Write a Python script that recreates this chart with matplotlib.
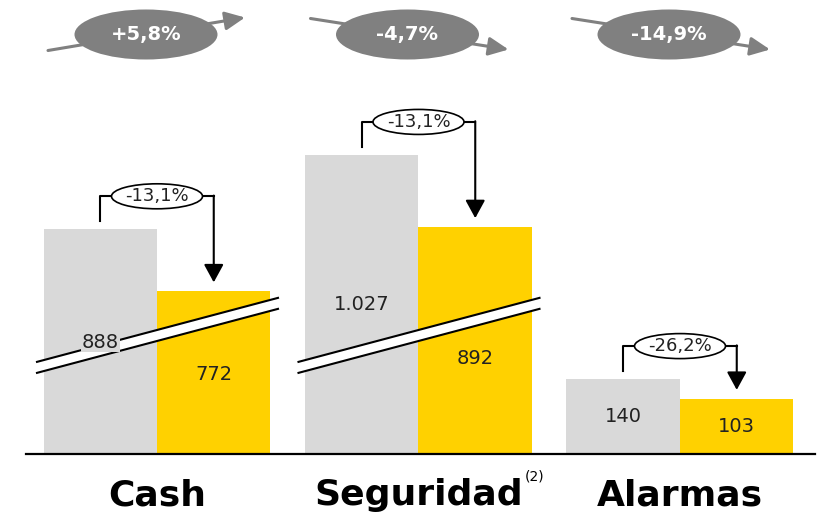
import matplotlib
matplotlib.use("Agg")
import matplotlib.pyplot as plt
from matplotlib.patches import Ellipse, Polygon
import numpy as np

# data
categories = ["Cash", "Seguridad", "Alarmas"]
prev_values = [888, 1027, 140]
curr_values = [772, 892, 103]
prev_labels = ["888", "1.027", "140"]
curr_labels = ["772", "892", "103"]
change_labels = ["-13,1%", "-13,1%", "-26,2%"]
growth_labels = ["+5,8%", "-4,7%", "-14,9%"]
growth_up = [True, False, False]
cat_notes = ["", "(2)", ""]

# axis break (values hidden below the cut), 0 = no break
break_offset = [468, 468, 0]

GRAY = "#D9D9D9"
YELLOW = "#FFD100"
DARK = "#808080"

# layout: pixel scale of the axes
PX_X = 261.5   # pixels per category
PX_Y = 0.535   # pixels per unit
BASE = 66      # baseline, pixels from bottom


def dx(px):
    return px / PX_X


def dy(px):
    return px / PX_Y


fig = plt.figure(figsize=(8.2, 5.2), dpi=100)
ax = fig.add_axes([0, 0, 1, 1])
ax.set_xlim(-157 / PX_X, (820 - 157) / PX_X)
ax.set_ylim(-BASE / PX_Y, (520 - BASE) / PX_Y)
ax.axis("off")

x = np.arange(len(categories))
w = dx(113.5)
prev_h = np.array(prev_values) - np.array(break_offset)
curr_h = np.array(curr_values) - np.array(break_offset)

ax.bar(x - w / 2, prev_h, w, color=GRAY, zorder=2)
ax.bar(x + w / 2, curr_h, w, color=YELLOW, zorder=2)

# baseline
ax.plot([dx(26 - 157), dx(815 - 157)], [0, 0], color="black", lw=1.6, zorder=3)

# break bands (rising to the right)
band_y = dy(124)
slope = dy(64) / dx(241)
for i in range(len(categories)):
    if break_offset[i] == 0:
        continue
    x0, x1 = x[i] - dx(120), x[i] + dx(121)
    y0 = band_y + slope * (x0 - x[i])
    y1 = band_y + slope * (x1 - x[i])
    gap = dy(11)
    ax.add_patch(Polygon([[x0, y0], [x1, y1], [x1, y1 - gap], [x0, y0 - gap]],
                         closed=True, facecolor="white", edgecolor="none", zorder=4))
    ax.plot([x0, x1], [y0, y1], color="black", lw=1.5, zorder=5)
    ax.plot([x0, x1], [y0 - gap, y1 - gap], color="black", lw=1.5, zorder=5)

# value labels
prev_label_y = [dy(112), dy(149), prev_h[2] / 2]
curr_label_y = [dy(79), dy(96), curr_h[2] / 2]
for i in range(len(categories)):
    ax.text(x[i] - w / 2, prev_label_y[i], prev_labels[i], ha="center", va="center",
            fontsize=14, color="#222222", zorder=6,
            bbox=dict(boxstyle="square,pad=0.05", facecolor=GRAY, edgecolor="none"))
    ax.text(x[i] + w / 2, curr_label_y[i], curr_labels[i], ha="center", va="center",
            fontsize=14, color="#222222", zorder=6)

# change brackets
for i in range(len(categories)):
    lx, rx = x[i] - w / 2, x[i] + w / 2
    ye = prev_h[i] + dy(33)
    tip = curr_h[i] + dy(9)
    ax.plot([lx, lx, rx], [prev_h[i] + dy(8), ye, ye], color="black", lw=1.5, zorder=6)
    ax.annotate("", xy=(rx, tip), xytext=(rx, ye + dy(0.7)),
                arrowprops=dict(arrowstyle="-|>,head_length=0.55,head_width=0.3",
                                mutation_scale=20, color="black", lw=1.5,
                                shrinkA=0, shrinkB=0), zorder=6)
    ax.add_patch(Ellipse((x[i], ye), dx(91), dy(25), facecolor="white",
                         edgecolor="black", lw=1.2, zorder=7))
    ax.text(x[i], ye, change_labels[i], ha="center", va="center", fontsize=13,
            color="#222222", zorder=8)

# growth ellipses on top
top_y = (520 - 34.5 - BASE) / PX_Y
for i in range(len(categories)):
    cx = x[i] - dx(11)
    if growth_up[i]:
        start = (x[i] - dx(109), top_y - dy(16))
        end = (x[i] + dx(88), top_y + dy(17))
    else:
        start = (x[i] - dx(108), top_y + dy(16))
        end = (x[i] + dx(90), top_y - dy(15))
    ax.annotate("", xy=end, xytext=start,
                arrowprops=dict(arrowstyle="-|>,head_length=0.6,head_width=0.28",
                                mutation_scale=20, color=DARK, lw=2.2,
                                shrinkA=0, shrinkB=0), zorder=6)
    ax.add_patch(Ellipse((cx, top_y), dx(143), dy(50), facecolor=DARK,
                         edgecolor="none", zorder=7))
    ax.text(cx, top_y, growth_labels[i], ha="center", va="center", fontsize=14,
            fontweight="bold", color="white", zorder=8)

# category labels
for i in range(len(categories)):
    ax.text(x[i], dy(-41), categories[i], ha="center", va="center",
            fontsize=26, fontweight="bold", color="black")
    if cat_notes[i]:
        ax.text(x[i] + dx(116), dy(-23), cat_notes[i], ha="center", va="center",
                fontsize=10, color="black")

fig.savefig("out.png", dpi=100)
